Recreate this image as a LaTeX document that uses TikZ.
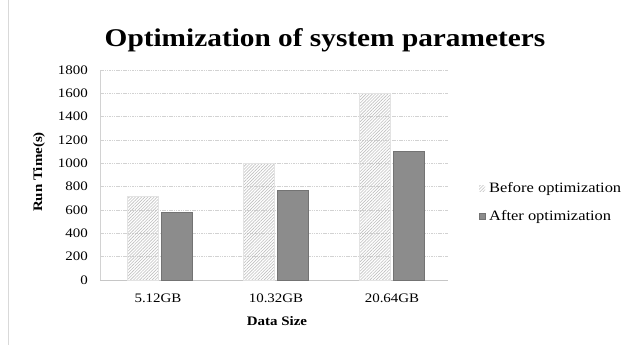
\documentclass[tikz,border=0pt]{standalone}
\usepackage{fontspec}
\setmainfont{Liberation Serif}[FakeStretch=1.15]
\usetikzlibrary{patterns.meta}
\begin{document}
\begin{tikzpicture}[x=1pt,y=-1pt,
  grid/.style={draw=gray!35, line width=0.6pt, dash pattern=on 1.5pt off 0.8pt},
  before/.style={fill=gray!6, pattern={Lines[angle=45,distance=2.2pt,line width=0.6pt]}, pattern color=gray!50},
  beforeedge/.style={draw=gray!22, line width=0.4pt},
  after/.style={fill=black!45, draw=black!55, line width=0.6pt},
  tick/.style={font=\fontsize{13}{15}\selectfont, anchor=east, inner sep=0pt},
  cat/.style={font=\fontsize{13}{15}\selectfont, inner sep=0pt},
  axtitle/.style={font=\bfseries\fontsize{13}{15}\selectfont, inner sep=0pt},
  legtext/.style={font=\fontsize{14.3}{16}\selectfont, anchor=west, inner sep=0pt}]
\useasboundingbox (0,0) rectangle (634,345);
\fill[white] (0,0) rectangle (634,345);
% chart border (faint)
\draw[gray!30, line width=0.6pt] (8,0) -- (8,345);
% title
\node[font=\bfseries\fontsize{25.5}{30}\selectfont, inner sep=0pt] (title) at (325,40) {Optimization of system parameters};
% gridlines and tick labels
\foreach \v in {0,200,...,1800} {
  \pgfmathsetmacro{\yy}{280-\v*0.116667}
  \draw[grid] (100,\yy) -- (448,\yy);
  \node[tick] (t\v) at (88,\yy) {\v};
}
\draw[gray!35, line width=0.6pt] (100,70) -- (100,280);
\draw[gray!45, line width=0.7pt] (100,280) -- (448,280);
% bars
\foreach \c/\b/\a [count=\i] in {158/720/580, 274/1000/770, 390/1600/1100} {
  \pgfmathsetmacro{\yb}{280-\b*0.116667}
  \pgfmathsetmacro{\ya}{280-\a*0.116667}
  \path[before] (\c-31,280) rectangle (\c,\yb);
  \draw[beforeedge] (\c-31,280) rectangle (\c,\yb);
  \draw[after] (\c+3,280) rectangle (\c+34,\ya);
}
% category labels
\node[cat] (c1) at (158,298) {5.12GB};
\node[cat] (c2) at (276,298) {10.32GB};
\node[cat] (c3) at (392,298) {20.64GB};
% axis titles
\node[axtitle] (xt) at (277,321) {Data Size};
\node[axtitle, rotate=90] (yt) at (39,172) {Run Time(s)};
% legend
\path[before] (479,185) rectangle (485,191);
\node[legtext] (l1) at (489,188.5) {Before optimization};
\draw[after] (479,213.5) rectangle (485,219.5);
\node[legtext] (l2) at (489,216.5) {After optimization};
\end{tikzpicture}
\end{document}
